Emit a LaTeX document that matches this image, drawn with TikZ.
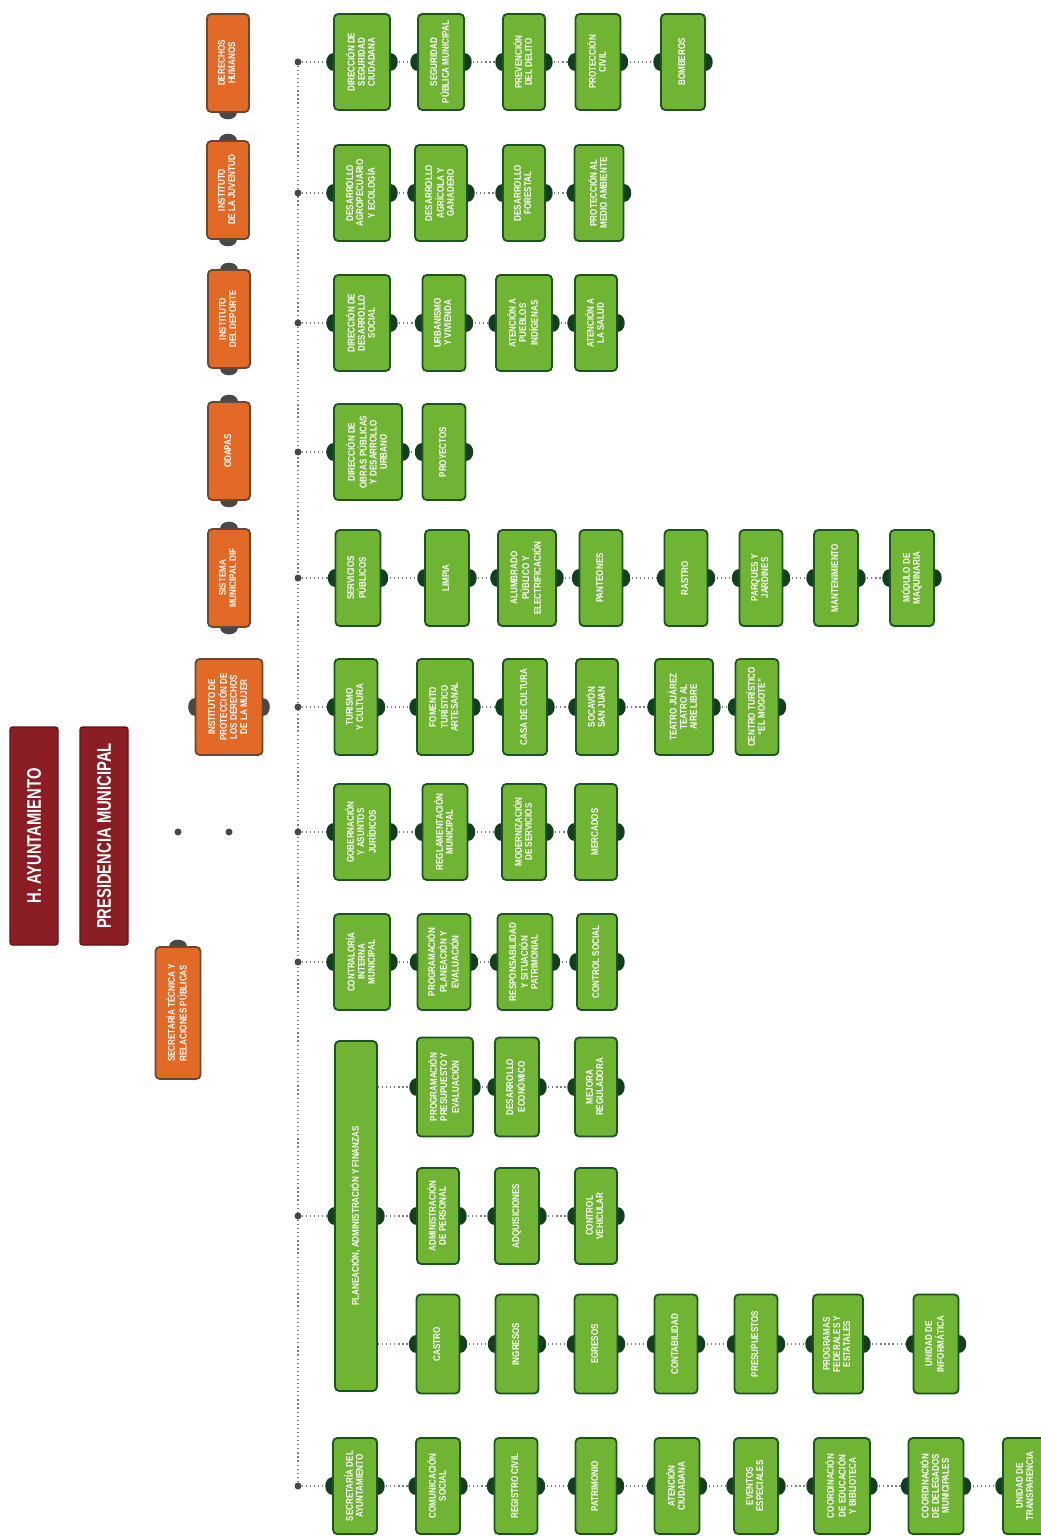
\documentclass[tikz,border=0pt]{standalone}
\usepackage{fontspec}
\setmainfont{Liberation Sans}
\newfontfamily\boxfont[FakeStretch=0.82]{Liberation Sans}
\newfontfamily\headfont[FakeStretch=0.75]{Liberation Sans}
\usepackage{graphicx}
\usetikzlibrary{backgrounds}
\definecolor{boxgreen}{RGB}{112,180,52}
\definecolor{edgegreen}{RGB}{30,85,30}
\definecolor{tabgreen}{RGB}{20,62,32}
\definecolor{boxorange}{RGB}{226,106,38}
\definecolor{edgeorange}{RGB}{105,72,55}
\definecolor{tabgray}{RGB}{72,72,72}
\definecolor{boxmaroon}{RGB}{138,30,36}
\definecolor{edgemaroon}{RGB}{96,18,22}
\definecolor{linegray}{RGB}{125,125,125}
\newcommand{\pxu}{0.025cm}
\newcommand{\vtext}[1]{\rotatebox{90}{\begin{tabular}{@{}c@{}}#1\end{tabular}}}
\renewcommand{\arraystretch}{0.9}
\tikzset{
  gbox/.style={draw=edgegreen, line width=1.3pt, fill=boxgreen, rounded corners=3pt, text=white,
    inner sep=0pt, font=\boxfont\bfseries\fontsize{7}{8}\selectfont, minimum height=96*\pxu, minimum width=#1*\pxu},
  gbox/.default=44,
  obox/.style={draw=edgeorange, line width=1.3pt, fill=boxorange, rounded corners=3pt, text=white,
    inner sep=0pt, font=\boxfont\bfseries\fontsize{7}{8}\selectfont, minimum height=98*\pxu, minimum width=42*\pxu},
  mbox/.style={draw=edgemaroon, line width=1pt, fill=boxmaroon, rounded corners=2pt, text=white,
    inner sep=0pt, font=\headfont\bfseries\fontsize{14}{16}\selectfont, minimum height=218*\pxu, minimum width=48*\pxu},
  boxh/.style={minimum height=#1*\pxu},
  link/.style={draw=linegray, dotted, line width=0.9pt},
  hub/.style={circle, fill=tabgray, inner sep=0pt, minimum size=7*\pxu},
  gtab/.style={fill=tabgreen},
  otab/.style={fill=tabgray}
}
\begin{document}
\begin{tikzpicture}[x=0.025cm, y=-0.025cm]
  \useasboundingbox (0,0) rectangle (1040,1536);

  % Top of the chart
  \node[mbox] (hay) at (34,836) {\rotatebox{90}{H. AYUNTAMIENTO}};
  \node[mbox] (pmu) at (104,836) {\rotatebox{90}{PRESIDENCIA MUNICIPAL}};

  % Orange column
  \node[obox] (dhu) at (228,63) {\vtext{DERECHOS\\HUMANOS}};
  \node[obox] (ijv) at (228,190) {\vtext{INSTITUTO\\DE LA JUVENTUD}};
  \node[obox] (ide) at (229,319) {\vtext{INSTITUTO\\DEL DEPORTE}};
  \node[obox] (oda) at (229,451) {\vtext{ODAPAS}};
  \node[obox] (dif) at (229,578) {\vtext{SISTEMA\\MUNICIPAL DIF}};
  \node[obox, minimum width=67*\pxu, minimum height=96*\pxu] (ipm) at (229,707) {\vtext{INSTITUTO DE\\PROTECCIÓN DE\\LOS DERECHOS\\DE LA MUJER}};
  \node[obox, minimum width=45*\pxu, minimum height=132*\pxu] (stp) at (178,1013) {\vtext{SECRETARÍA TÉCNICA Y\\RELACIONES PÚBLICAS}};

  % Hubs on the dotted trunk
  \node[hub] (h1) at (298,62) {};
  \node[hub] (h2) at (298,193) {};
  \node[hub] (h3) at (298,323) {};
  \node[hub] (h4) at (298,452) {};
  \node[hub] (h5) at (298,578) {};
  \node[hub] (h6) at (298,707) {};
  \node[hub] (h7) at (298,832) {};
  \node[hub] (h8) at (298,962) {};
  \node[hub] (h9) at (298,1216) {};
  \node[hub] (h10) at (298,1486) {};
  \node[hub] (h7a) at (178,832) {};
  \node[hub] (h7b) at (229,832) {};

  % Row 1
  \node[gbox=56] (dsc) at (362,62) {\vtext{DIRECCIÓN DE\\SEGURIDAD\\CIUDADANA}};
  \node[gbox=46] (spm) at (441,62) {\vtext{SEGURIDAD\\PÚBLICA MUNICIPAL}};
  \node[gbox=42] (pdd) at (524,62) {\vtext{PREVENCIÓN\\DEL DELITO}};
  \node[gbox=45] (pci) at (598,62) {\vtext{PROTECCIÓN\\CIVIL}};
  \node[gbox=44] (bom) at (683,62) {\vtext{BOMBEROS}};

  % Row 2
  \node[gbox=56] (dae) at (362,193) {\vtext{DESARROLLO\\AGROPECUARIO\\Y ECOLOGÍA}};
  \node[gbox=52] (dag) at (441,193) {\vtext{DESARROLLO\\AGRÍCOLA Y\\GANADERO}};
  \node[gbox=42] (dfo) at (524,193) {\vtext{DESARROLLO\\FORESTAL}};
  \node[gbox=49] (pma) at (599,193) {\vtext{PROTECCIÓN AL\\MEDIO AMBIENTE}};

  % Row 3
  \node[gbox=56] (dds) at (362,323) {\vtext{DIRECCIÓN DE\\DESARROLLO\\SOCIAL}};
  \node[gbox=43] (uyv) at (444,323) {\vtext{URBANISMO\\Y VIVIENDA}};
  \node[gbox=56] (api) at (524,323) {\vtext{ATENCIÓN A\\PUEBLOS\\INDÍGENAS}};
  \node[gbox=42] (als) at (596,323) {\vtext{ATENCIÓN A\\LA SALUD}};

  % Row 4
  \node[gbox=68] (dop) at (368,452) {\vtext{DIRECCIÓN DE\\OBRAS PÚBLICAS\\Y DESARROLLO\\URBANO}};
  \node[gbox=43] (pry) at (444,452) {\vtext{PROYECTOS}};

  % Row 5
  \node[gbox=45] (spu) at (358,578) {\vtext{SERVICIOS\\PÚBLICOS}};
  \node[gbox=44] (lim) at (447,578) {\vtext{LIMPIA}};
  \node[gbox=58] (ale) at (527,578) {\vtext{ALUMBRADO\\PÚBLICO Y\\ELECTRIFICACIÓN}};
  \node[gbox=43] (pan) at (601,578) {\vtext{PANTEONES}};
  \node[gbox=43] (ras) at (686,578) {\vtext{RASTRO}};
  \node[gbox=43] (pyj) at (761,578) {\vtext{PARQUES Y\\JARDINES}};
  \node[gbox=44] (man) at (836,578) {\vtext{MANTENIMIENTO}};
  \node[gbox=44] (mma) at (912,578) {\vtext{MÓDULO DE\\MAQUINARIA}};

  % Row 6
  \node[gbox=43] (tyc) at (356,707) {\vtext{TURISMO\\Y CULTURA}};
  \node[gbox=56] (fta) at (445,707) {\vtext{FOMENTO\\TURÍSTICO\\ARTESANAL}};
  \node[gbox=44] (cdc) at (525,707) {\vtext{CASA DE CULTURA}};
  \node[gbox=42] (ssj) at (597,707) {\vtext{SOCAVÓN\\SAN JUAN}};
  \node[gbox=58] (tja) at (684,707) {\vtext{TEATRO JUÁREZ\\TEATRO AL\\AIRE LIBRE}};
  \node[gbox=43] (ctm) at (757,707) {\vtext{CENTRO TURÍSTICO\\“EL MOGOTE”}};

  % Row 7
  \node[gbox=56] (gaj) at (362,832) {\vtext{GOBERNACIÓN\\Y ASUNTOS\\JURÍDICOS}};
  \node[gbox=45] (rmu) at (445,832) {\vtext{REGLAMENTACIÓN\\MUNICIPAL}};
  \node[gbox=44] (mds) at (524,832) {\vtext{MODERNIZACIÓN\\DE SERVICIOS}};
  \node[gbox=42] (mer) at (596,832) {\vtext{MERCADOS}};

  % Row 8
  \node[gbox=56] (cim) at (362,962) {\vtext{CONTRALORÍA\\INTERNA\\MUNICIPAL}};
  \node[gbox=53] (ppe) at (444,962) {\vtext{PROGRAMACIÓN\\PLANEACIÓN Y\\EVALUACIÓN}};
  \node[gbox=55] (rsp) at (525,962) {\vtext{RESPONSABILIDAD\\Y SITUACIÓN\\PATRIMONIAL}};
  \node[gbox=40] (csc) at (597,962) {\vtext{CONTROL SOCIAL}};

  % Row 9: Planeacion and its three branches
  \node[gbox=42, boxh=350] (paf) at (356,1216) {\vtext{PLANEACIÓN, ADMINISTRACIÓN Y FINANZAS}};
  \node[gbox=56, boxh=99] (ppr) at (445,1087) {\vtext{PROGRAMACIÓN\\PRESUPUESTO Y\\EVALUACIÓN}};
  \node[gbox=44, boxh=99] (dec) at (517,1087) {\vtext{DESARROLLO\\ECONÓMICO}};
  \node[gbox=42, boxh=99] (mre) at (596,1087) {\vtext{MEJORA\\REGULADORA}};
  \node[gbox=42] (ape) at (438,1216) {\vtext{ADMINISTRACIÓN\\DE PERSONAL}};
  \node[gbox=44] (adq) at (517,1216) {\vtext{ADQUISICIONES}};
  \node[gbox=42] (cve) at (596,1216) {\vtext{CONTROL\\VEHICULAR}};
  \node[gbox=43, boxh=99] (cas) at (438,1344) {\vtext{CASTRO}};
  \node[gbox=43, boxh=99] (ing) at (517,1344) {\vtext{INGRESOS}};
  \node[gbox=43, boxh=99] (egr) at (596,1344) {\vtext{EGRESOS}};
  \node[gbox=43, boxh=99] (con) at (676,1344) {\vtext{CONTABILIDAD}};
  \node[gbox=43, boxh=99] (pre) at (756,1344) {\vtext{PRESUPUESTOS}};
  \node[gbox=50, boxh=99] (pfe) at (838,1344) {\vtext{PROGRAMAS\\FEDERALES Y\\ESTATALES}};
  \node[gbox=45, boxh=99] (uin) at (936,1344) {\vtext{UNIDAD DE\\INFORMÁTICA}};

  % Row 10
  \node[gbox=44] (sda) at (355,1486) {\vtext{SECRETARÍA DEL\\AYUNTAMIENTO}};
  \node[gbox=44] (com) at (438,1486) {\vtext{COMUNICACIÓN\\SOCIAL}};
  \node[gbox=43] (rci) at (516,1486) {\vtext{REGISTRO CIVIL}};
  \node[gbox=41] (pat) at (596,1486) {\vtext{PATRIMONIO}};
  \node[gbox=45] (aci) at (677,1486) {\vtext{ATENCIÓN\\CIUDADANA}};
  \node[gbox=44] (ees) at (756,1486) {\vtext{EVENTOS\\ESPECIALES}};
  \node[gbox=56] (ceb) at (842,1486) {\vtext{COORDINACIÓN\\DE EDUCACIÓN\\Y BIBLIOTECA}};
  \node[gbox=55] (cdm) at (936,1486) {\vtext{COORDINACIÓN\\DE DELEGADOS\\MUNICIPALES}};
  \node[gbox=46] (utr) at (1026,1486) {\vtext{UNIDAD DE\\TRANSPARENCIA}};

  \begin{scope}[on background layer]
    % dotted links
    \draw[link] (h1) -- (h10);
    \draw[link] (h1) -- (dsc) -- (spm) -- (pdd) -- (pci) -- (bom);
    \draw[link] (h2) -- (dae) -- (dag) -- (dfo) -- (pma);
    \draw[link] (h3) -- (dds) -- (uyv) -- (api) -- (als);
    \draw[link] (h4) -- (dop) -- (pry);
    \draw[link] (h5) -- (spu) -- (lim) -- (ale) -- (pan) -- (ras) -- (pyj) -- (man) -- (mma);
    \draw[link] (h6) -- (tyc) -- (fta) -- (cdc) -- (ssj) -- (tja) -- (ctm);
    \draw[link] (h7) -- (gaj) -- (rmu) -- (mds) -- (mer);
    \draw[link] (h8) -- (cim) -- (ppe) -- (rsp) -- (csc);
    \draw[link] (h9) -- (paf) -- (ape) -- (adq) -- (cve);
    \draw[link] (paf.east |- ppr) -- (ppr) -- (dec) -- (mre);
    \draw[link] (paf.east |- cas) -- (cas) -- (ing) -- (egr) -- (con) -- (pre) -- (pfe) -- (uin);
    \draw[link] (h10) -- (sda) -- (com) -- (rci) -- (pat) -- (aci) -- (ees) -- (ceb) -- (cdm) -- (utr);

    % side tabs of the green boxes
    \foreach \n in {dsc,spm,pdd,pci,bom,dae,dag,dfo,pma,dds,uyv,api,als,dop,pry,
                    spu,lim,ale,pan,ras,pyj,man,mma,tyc,fta,cdc,ssj,tja,ctm,
                    gaj,rmu,mds,mer,cim,ppe,rsp,csc,paf,ppr,dec,mre,ape,adq,cve,
                    cas,ing,egr,con,pre,pfe,uin,sda,com,rci,pat,aci,ees,ceb,cdm,utr}
      \fill[gtab] (\n.west) ellipse (0.17cm and 0.22cm) (\n.east) ellipse (0.17cm and 0.22cm);

    % tabs of the orange boxes
    \fill[otab] (dhu.south) ellipse (0.22cm and 0.16cm);
    \fill[otab] (ijv.north) ellipse (0.22cm and 0.16cm) (ijv.south) ellipse (0.22cm and 0.16cm);
    \fill[otab] (ide.north) ellipse (0.22cm and 0.16cm) (ide.south) ellipse (0.22cm and 0.16cm);
    \fill[otab] (oda.north) ellipse (0.22cm and 0.16cm) (oda.south) ellipse (0.22cm and 0.16cm);
    \fill[otab] (dif.north) ellipse (0.22cm and 0.16cm) (dif.south) ellipse (0.22cm and 0.16cm);
    \fill[otab] (ipm.west) ellipse (0.16cm and 0.22cm) (ipm.east) ellipse (0.16cm and 0.22cm);
    \fill[otab] (stp.north) ellipse (0.22cm and 0.16cm);
  \end{scope}
\end{tikzpicture}
\end{document}
